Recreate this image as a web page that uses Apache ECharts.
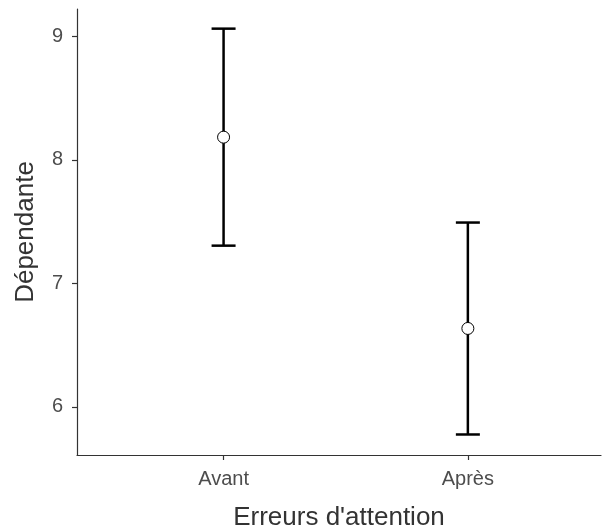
<!DOCTYPE html>
<html>
<head>
<meta charset="utf-8">
<script src="https://cdn.jsdelivr.net/npm/echarts@6/dist/echarts.min.js"></script>
<style>html,body{margin:0;padding:0;background:#fff;overflow:hidden;}#c{width:603px;height:530px;}</style>
</head>
<body>
<div id="c"></div>
<script>
var categories = ["Avant", "Après"];
var means = [8.183, 6.635];
var lowers = [7.305, 5.777];
var uppers = [9.061, 7.492];
var yTicks = [6, 7, 8, 9];

var chart = echarts.init(document.getElementById('c'), null, {renderer: 'canvas'});
var errData = categories.map(function (c, i) { return [i + 1, lowers[i], uppers[i]]; });
var ptData = categories.map(function (c, i) { return [i + 1, means[i]]; });
var font = "'Liberation Sans', Arial, sans-serif";

chart.setOption({
  animation: false,
  grid: {left: 77, right: 2, top: 9, bottom: 75, containLabel: false, outerBoundsMode: 'none'},
  xAxis: {
    type: 'value', min: 0.4, max: 2.545,
    name: "Erreurs d'attention", nameLocation: 'middle', nameGap: 50,
    nameTextStyle: {fontSize: 26, color: '#333', fontFamily: font},
    splitLine: {show: false},
    axisLine: {lineStyle: {color: '#333', width: 1.2}},
    axisTick: {customValues: [1, 2], length: 5, lineStyle: {color: '#333', width: 1.2}},
    axisLabel: {customValues: [1, 2], margin: 14, fontSize: 20, color: '#4d4d4d', fontFamily: font,
      formatter: function (v) { return categories[Math.round(v) - 1] || ''; }}
  },
  yAxis: {
    type: 'value', min: 5.611, max: 9.22,
    name: 'Dépendante', nameLocation: 'middle', nameGap: 38, nameRotate: 90,
    nameTextStyle: {fontSize: 26, color: '#333', fontFamily: font},
    splitLine: {show: false},
    axisLine: {show: true, lineStyle: {color: '#333', width: 1.2}},
    axisTick: {show: true, customValues: yTicks, length: 5, lineStyle: {color: '#333', width: 1.2}},
    axisLabel: {customValues: yTicks, margin: 14, fontSize: 20, color: '#4d4d4d', fontFamily: font}
  },
  series: [
    {
      type: 'custom',
      data: errData,
      encode: {x: 0, y: [1, 2]},
      renderItem: function (params, api) {
        var x = api.value(0);
        var lo = api.coord([x, api.value(1)]);
        var hi = api.coord([x, api.value(2)]);
        var hw = 12;
        var st = {stroke: '#000', lineWidth: 2.5};
        return {
          type: 'group',
          children: [
            {type: 'line', shape: {x1: lo[0], y1: lo[1], x2: hi[0], y2: hi[1]}, style: st},
            {type: 'line', shape: {x1: lo[0] - hw, y1: lo[1], x2: lo[0] + hw, y2: lo[1]}, style: st},
            {type: 'line', shape: {x1: hi[0] - hw, y1: hi[1], x2: hi[0] + hw, y2: hi[1]}, style: st}
          ]
        };
      },
      z: 2
    },
    {
      type: 'scatter',
      data: ptData,
      symbol: 'circle',
      symbolSize: 12,
      itemStyle: {color: '#fff', borderColor: '#000', borderWidth: 1, opacity: 1},
      z: 3
    }
  ]
});
</script>
</body>
</html>
